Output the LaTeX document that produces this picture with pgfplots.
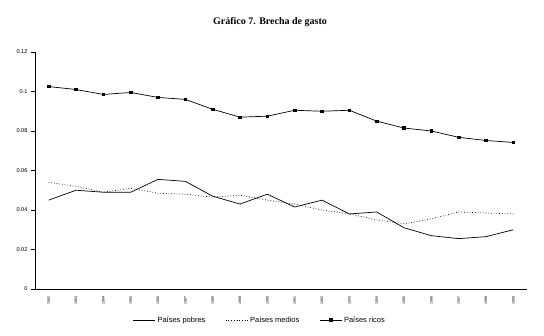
\documentclass[border=0pt]{standalone}
\usepackage{fontspec}
\setmainfont{Liberation Sans}
\newfontfamily\titlefont{Liberation Serif}
\usepackage{pgfplots}
\pgfplotsset{compat=1.18}
\begin{document}
\begin{tikzpicture}
\useasboundingbox (-35pt,-47pt) rectangle (509pt,289pt);
\begin{axis}[
  at={(0pt,0pt)}, anchor=south west,
  scale only axis, width=492pt, height=237pt,
  xmin=-0.5, xmax=17.5, ymin=0, ymax=0.12,
  axis x line=bottom, axis y line=left,
  axis line style={-, line width=0.6pt},
  xtick={0,...,17},
  xticklabels={1982,1983,1984,1985,1986,1987,1988,1989,1990,1991,1992,1993,1994,1995,1996,1997,1998,1999},
  extra x ticks={-0.5,0.5,...,17.5}, extra x tick labels={},
  extra x tick style={major tick length=4pt, tick style={line width=0.5pt, black}},
  x tick label style={rotate=90, font=\fontsize{3.6}{4}\selectfont, anchor=east},
  xtick style={draw=none},
  ytick={0,0.02,...,0.12},
  yticklabels={0,0.02,0.04,0.06,0.08,0.1,0.12},
  y tick label style={font=\fontsize{5.6}{6}\selectfont},
  ytick style={line width=0.5pt, black},
  tick align=outside, major tick length=4pt,
  legend columns=3,
  legend style={draw=none, at={(0.457,-0.131)}, anchor=center, font=\fontsize{7.5}{9}\selectfont,
    /tikz/every even column/.append style={column sep=18pt}},
  legend image code/.code={\draw[mark repeat=2,mark phase=2,#1] plot coordinates {(0pt,0pt) (11pt,0pt) (22pt,0pt)};},
]
\addplot[black, line width=0.7pt, mark=none] coordinates {
(0,0.045) (1,0.050) (2,0.049) (3,0.049) (4,0.0555) (5,0.0545) (6,0.047) (7,0.043) (8,0.048) (9,0.0415) (10,0.045) (11,0.038) (12,0.039) (13,0.031) (14,0.027) (15,0.0255) (16,0.0265) (17,0.030)};
\addlegendentry{Países pobres}
\addplot[black, line width=0.7pt, dotted, mark=none] coordinates {
(0,0.054) (1,0.052) (2,0.049) (3,0.051) (4,0.0485) (5,0.048) (6,0.0465) (7,0.0475) (8,0.045) (9,0.043) (10,0.040) (11,0.038) (12,0.035) (13,0.033) (14,0.0355) (15,0.039) (16,0.0385) (17,0.038)};
\addlegendentry{Países medios}
\addplot[black, line width=0.7pt, mark=square*, mark size=1.2pt, mark options={solid}] coordinates {
(0,0.1025) (1,0.101) (2,0.0985) (3,0.0995) (4,0.097) (5,0.096) (6,0.091) (7,0.087) (8,0.0875) (9,0.0905) (10,0.090) (11,0.0905) (12,0.085) (13,0.0815) (14,0.080) (15,0.0768) (16,0.0752) (17,0.0742)};
\addlegendentry{Países ricos}
\end{axis}
\node[font=\titlefont\bfseries\fontsize{10}{12}\selectfont] at (235pt,267pt) {Gráfico 7. Brecha de gasto};
\end{tikzpicture}
\end{document}
